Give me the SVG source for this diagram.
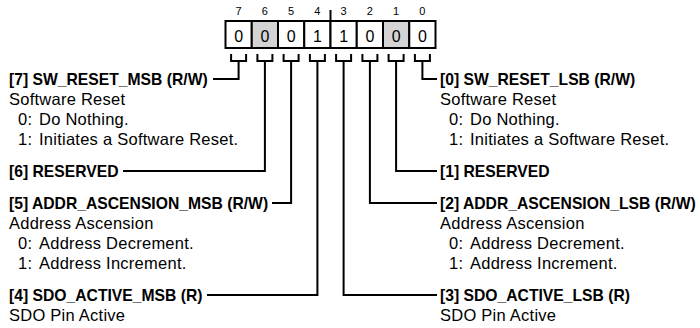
<svg xmlns="http://www.w3.org/2000/svg" width="700" height="328" viewBox="0 0 700 328">
<style>
  text { font-family: "Liberation Sans", Arial, sans-serif; fill: #000; }
  .num { font-size: 11px; text-anchor: middle; }
  .val { font-size: 16px; text-anchor: middle; }
  .hd { font-size: 15.7px; font-weight: bold; }
  .ds { font-size: 16.5px; letter-spacing: 0.25px; }
  .cell { fill: #fff; stroke: #000; stroke-width: 2; }
  .grey { fill: #d4d4d4; }
  .ln { fill: none; stroke: #000; stroke-width: 2; stroke-linejoin: miter; }
</style>
<rect width="700" height="328" fill="#fff"/>

<g id="register">
  <text class="num" x="238.6" y="15">7</text>
  <text class="num" x="264.9" y="15">6</text>
  <text class="num" x="291.1" y="15">5</text>
  <text class="num" x="317.4" y="15">4</text>
  <text class="num" x="343.6" y="15">3</text>
  <text class="num" x="369.9" y="15">2</text>
  <text class="num" x="396.1" y="15">1</text>
  <text class="num" x="422.4" y="15">0</text>
  <line class="ln" x1="330.5" y1="10" x2="330.5" y2="21"/>
  <rect class="cell" x="225.5" y="21" width="26.25" height="27"/>
  <rect class="cell grey" x="251.75" y="21" width="26.25" height="27"/>
  <rect class="cell" x="278" y="21" width="26.25" height="27"/>
  <rect class="cell" x="304.25" y="21" width="26.25" height="27"/>
  <rect class="cell" x="330.5" y="21" width="26.25" height="27"/>
  <rect class="cell" x="356.75" y="21" width="26.25" height="27"/>
  <rect class="cell grey" x="383" y="21" width="26.25" height="27"/>
  <rect class="cell" x="409.25" y="21" width="26.25" height="27"/>
  <text class="val" x="238.6" y="41.5">0</text>
  <text class="val" x="264.9" y="41.5">0</text>
  <text class="val" x="291.1" y="41.5">0</text>
  <text class="val" x="317.4" y="41.5">1</text>
  <text class="val" x="343.6" y="41.5">1</text>
  <text class="val" x="369.9" y="41.5">0</text>
  <text class="val" x="396.1" y="41.5">0</text>
  <text class="val" x="422.4" y="41.5">0</text>
</g>

<g id="connectors">
  <path class="ln" d="M231.1 54V61H246.1V54M238.6 61V79H213"/>
  <path class="ln" d="M257.4 54V61H272.4V54M264.9 61V171H123"/>
  <path class="ln" d="M283.6 54V61H298.6V54M291.1 61V203H272"/>
  <path class="ln" d="M309.9 54V61H324.9V54M317.4 61V295H207"/>
  <path class="ln" d="M336.1 54V61H351.1V54M343.6 61V295H437"/>
  <path class="ln" d="M362.4 54V61H377.4V54M369.9 61V203H437"/>
  <path class="ln" d="M388.6 54V61H403.6V54M396.1 61V171H437"/>
  <path class="ln" d="M414.9 54V61H429.9V54M422.4 61V79H437"/>
</g>

<g id="bit7">
  <text class="hd" x="9" y="84.5">[7] SW_RESET_MSB (R/W)</text>
  <text class="ds" x="9" y="104.5">Software Reset</text>
  <text class="ds" y="124.5"><tspan x="18">0:</tspan><tspan x="39">Do Nothing.</tspan></text>
  <text class="ds" y="144.5"><tspan x="18">1:</tspan><tspan x="39">Initiates a Software Reset.</tspan></text>
</g>
<g id="bit6">
  <text class="hd" x="9" y="176.5">[6] RESERVED</text>
</g>
<g id="bit5">
  <text class="hd" x="9" y="208.5">[5] ADDR_ASCENSION_MSB (R/W)</text>
  <text class="ds" x="9" y="228.5">Address Ascension</text>
  <text class="ds" y="248.5"><tspan x="18">0:</tspan><tspan x="39">Address Decrement.</tspan></text>
  <text class="ds" y="268.5"><tspan x="18">1:</tspan><tspan x="39">Address Increment.</tspan></text>
</g>
<g id="bit4">
  <text class="hd" x="9" y="300.5">[4] SDO_ACTIVE_MSB (R)</text>
  <text class="ds" x="9" y="320.5">SDO Pin Active</text>
</g>

<g id="bit0">
  <text class="hd" x="440" y="84.5">[0] SW_RESET_LSB (R/W)</text>
  <text class="ds" x="440" y="104.5">Software Reset</text>
  <text class="ds" y="124.5"><tspan x="449">0:</tspan><tspan x="470">Do Nothing.</tspan></text>
  <text class="ds" y="144.5"><tspan x="449">1:</tspan><tspan x="470">Initiates a Software Reset.</tspan></text>
</g>
<g id="bit1">
  <text class="hd" x="440" y="176.5">[1] RESERVED</text>
</g>
<g id="bit2">
  <text class="hd" x="440" y="208.5">[2] ADDR_ASCENSION_LSB (R/W)</text>
  <text class="ds" x="440" y="228.5">Address Ascension</text>
  <text class="ds" y="248.5"><tspan x="449">0:</tspan><tspan x="470">Address Decrement.</tspan></text>
  <text class="ds" y="268.5"><tspan x="449">1:</tspan><tspan x="470">Address Increment.</tspan></text>
</g>
<g id="bit3">
  <text class="hd" x="440" y="300.5">[3] SDO_ACTIVE_LSB (R)</text>
  <text class="ds" x="440" y="320.5">SDO Pin Active</text>
</g>
</svg>
